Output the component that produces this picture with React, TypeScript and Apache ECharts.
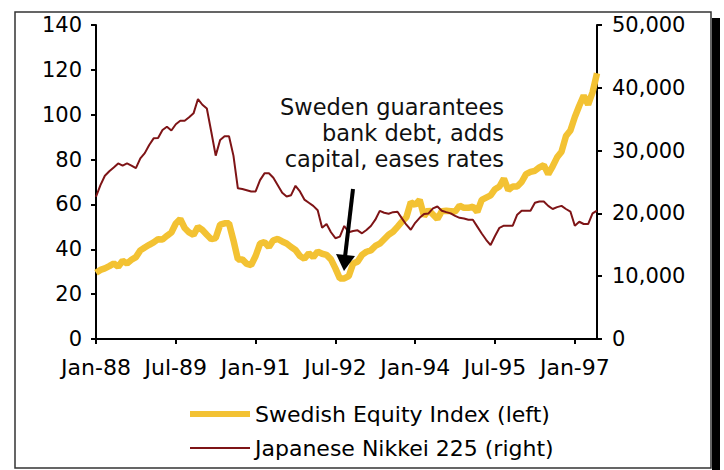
import React, { useEffect, useRef } from "react";
import * as echarts from "echarts";

const monthNames = ["Jan", "Feb", "Mar", "Apr", "May", "Jun", "Jul", "Aug", "Sep", "Oct", "Nov", "Dec"];
const startYear = 1988;
const monthCount = 114; // Jan-88 .. Jun-97

const categories: string[] = [];
for (let i = 0; i < monthCount; i++) {
  const y = (startYear + Math.floor(i / 12)) % 100;
  categories.push(`${monthNames[i % 12]}-${String(y).padStart(2, "0")}`);
}

const swedishIndex = [
  29.5, 30.8, 31.5, 32.5, 33.7, 32.2, 34.9, 33.7, 35.3, 36.5,
  39.5, 40.8, 42.0, 43.1, 44.5, 44.4, 46.0, 47.5, 51.5, 53.5,
  49.5, 47.5, 46.4, 50.0, 48.6, 46.5, 44.5, 45.0, 51.0, 51.6,
  51.6, 44.0, 35.5, 35.5, 33.5, 33.0, 37.0, 42.5, 43.2, 41.0,
  44.0, 44.6, 43.5, 42.6, 41.0, 39.7, 37.0, 35.8, 38.2, 36.5,
  39.0, 38.0, 37.5, 35.5, 31.5, 27.0, 27.0, 28.0, 33.7, 34.5,
  37.5, 38.9, 39.5, 41.5, 42.5, 44.5, 46.5, 47.8, 50.0, 52.3,
  54.3, 61.0, 59.8, 62.0, 54.8, 57.5, 55.5, 53.5, 57.0, 57.2,
  57.0, 56.8, 59.5, 58.5, 58.5, 59.0, 56.7, 62.0, 63.0, 64.0,
  66.8, 68.0, 71.5, 66.4, 68.0, 68.0, 70.0, 73.5, 74.5, 75.0,
  76.5, 77.5, 73.5, 77.0, 81.0, 83.5, 90.5, 93.0, 99.0, 104.0,
  108.5, 104.5, 110.0, 118.5,
];

const nikkei225 = [
  22650, 24500, 26000, 26700, 27300, 27950, 27600, 27950, 27600, 27200,
  28770, 29600, 30900, 31950, 32000, 33270, 33800, 33200, 34200, 34750,
  34750, 35300, 35930, 38210, 37300, 36700, 33000, 29200, 31700, 32300,
  32300, 29200, 24000, 23880, 23700, 23500, 23500, 25300, 26380, 26380,
  25680, 24500, 23300, 22700, 22900, 24400, 23500, 22200, 21700, 21200,
  20500, 17700, 18300, 17000, 16050, 16300, 18000, 17000, 17200, 17300,
  16830, 17350, 17990, 19000, 20400, 20100, 19950, 20200, 20270, 19200,
  18200, 17400, 18500, 19300, 19900, 20000, 20800, 21100, 20430, 20200,
  20000, 19600, 19300, 19200, 19000, 19000, 17900, 16800, 15800, 14960,
  16400, 17700, 18040, 18040, 18040, 19800, 20430, 20430, 20430, 21700,
  21900, 21900, 21200, 20700, 21000, 21200, 20700, 20300, 18040, 18670,
  18310, 18310, 20000, 20430,
];

const seriesNames = ["Swedish Equity Index (left)", "Japanese Nikkei 225 (right)"];
const annotationText = "Sweden guarantees\nbank debt, adds\ncapital, eases rates";

const FONT = "'DejaVu Sans', Verdana, sans-serif";
const YELLOW = "#F3C233";
const DARKRED = "#7E1416";

export default function App() {
  const ref = useRef<HTMLDivElement>(null);
  useEffect(() => {
    if (!ref.current) return;
    const chart = echarts.init(ref.current, undefined, { renderer: "svg" });
    const axisLine = { show: true, lineStyle: { color: "#000", width: 2 } };
    const axisTick = { show: true, length: 5, inside: false, lineStyle: { color: "#000", width: 2 } };
    chart.setOption({
      animation: false,
      backgroundColor: "#fff",
      textStyle: { fontFamily: FONT },
      grid: { left: 96, right: 127, top: 25, bottom: 131, containLabel: false },
      xAxis: {
        type: "category",
        data: categories,
        boundaryGap: false,
        axisLine,
        axisTick: { ...axisTick, interval: 17 },
        axisLabel: { interval: 17, fontSize: 22, color: "#000", margin: 17, fontFamily: FONT },
        splitLine: { show: false },
      },
      yAxis: [
        {
          type: "value",
          min: 0,
          max: 140,
          interval: 20,
          axisLine,
          axisTick,
          axisLabel: { fontSize: 21, color: "#000", margin: 14, fontFamily: FONT },
          splitLine: { show: false },
        },
        {
          type: "value",
          min: 0,
          max: 50000,
          interval: 10000,
          position: "right",
          axisLine,
          axisTick,
          axisLabel: {
            fontSize: 21,
            color: "#000",
            margin: 15,
            fontFamily: FONT,
            formatter: (v: number) => v.toLocaleString("en-US"),
          },
          splitLine: { show: false },
        },
      ],
      legend: {
        orient: "vertical",
        left: 185,
        top: 398,
        itemWidth: 60,
        itemHeight: 14,
        itemGap: 12,
        symbolKeepAspect: true,
        textStyle: { fontSize: 22, color: "#000", fontFamily: FONT },
        data: [
          {
            name: seriesNames[0],
            icon: "path://M0,0H60V6H0Z",
            itemStyle: { color: YELLOW, borderWidth: 0 },
            lineStyle: { width: 0 },
          },
          {
            name: seriesNames[1],
            icon: "path://M0,0H60V2H0Z",
            itemStyle: { color: DARKRED, borderWidth: 0 },
            lineStyle: { width: 0 },
          },
        ],
      },
      series: [
        {
          name: seriesNames[0],
          type: "line",
          yAxisIndex: 0,
          data: swedishIndex,
          symbol: "none",
          showSymbol: false,
          lineStyle: { color: YELLOW, width: 6.5 },
          itemStyle: { color: YELLOW },
          z: 2,
        },
        {
          name: seriesNames[1],
          type: "line",
          yAxisIndex: 1,
          data: nikkei225,
          symbol: "none",
          showSymbol: false,
          lineStyle: { color: DARKRED, width: 2 },
          itemStyle: { color: DARKRED },
          z: 3,
        },
      ],
      graphic: [
        {
          type: "rect",
          shape: { x: 712, y: 18, width: 8, height: 452 },
          style: { fill: "#000" },
          silent: true,
        },
        {
          type: "rect",
          shape: { x: 15, y: 12, width: 696, height: 456 },
          style: { fill: "none", stroke: "#333", lineWidth: 1.5 },
          silent: true,
        },
        {
          type: "text",
          x: 504,
          y: 133,
          z: 10,
          style: {
            text: annotationText,
            fontFamily: FONT,
            fontSize: 22.5,
            lineHeight: 26,
            fill: "#111",
            align: "right",
            verticalAlign: "middle",
          },
        },
        {
          type: "line",
          z: 10,
          shape: { x1: 353, y1: 189, x2: 345, y2: 257 },
          style: { stroke: "#000", lineWidth: 4 },
        },
        {
          type: "polygon",
          z: 10,
          shape: { points: [[336, 254], [355, 256], [344, 271]] },
          style: { fill: "#000" },
        },
      ],
    });
    return () => chart.dispose();
  }, []);
  return (
    <div
      ref={ref}
      style={{ position: "fixed", left: 0, top: 0, width: 724, height: 470 }}
    />
  );
}
